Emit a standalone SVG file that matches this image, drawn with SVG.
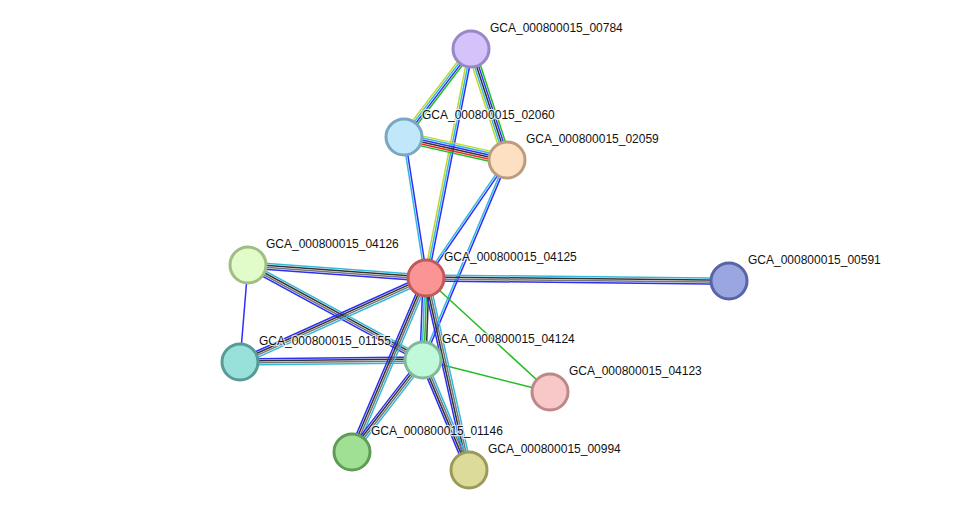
<svg xmlns="http://www.w3.org/2000/svg" width="975" height="516" viewBox="0 0 975 516">
<style>
.e line{stroke-width:1.5;fill:none}
.tm{stroke:#c2d62e}.db{stroke:#33b9dc}.co{stroke:#2e2ef8}.cx{stroke:#333}.cg{stroke:#777}.nb{stroke:#22bd22}.fu{stroke:#f02828}
.n circle{stroke-width:3}
.n text{font-family:"Liberation Sans",Arial,sans-serif;font-size:12px;fill:#111;stroke:#fff;stroke-width:2.5;stroke-opacity:0.75;paint-order:stroke;stroke-linejoin:round}
</style>
<rect width="975" height="516" fill="#fff"/>
<g id="edges" class="e">
  <!-- 00784-02060 -->
  <g transform="translate(471,49) rotate(127.3)"><line class="tm" x1="0" y1="3" x2="110.6" y2="3"/><line class="db" x1="0" y1="1" x2="110.6" y2="1"/><line class="co" x1="0" y1="-1" x2="110.6" y2="-1"/><line class="nb" x1="0" y1="-3" x2="110.6" y2="-3"/></g>
  <!-- 00784-02059 -->
  <g transform="translate(471,49) rotate(72)"><line class="tm" x1="0" y1="4" x2="116.7" y2="4"/><line class="db" x1="0" y1="2" x2="116.7" y2="2"/><line class="cx" x1="0" y1="0" x2="116.7" y2="0"/><line class="co" x1="0" y1="-2" x2="116.7" y2="-2"/><line class="nb" x1="0" y1="-4" x2="116.7" y2="-4"/></g>
  <!-- 00784-04125 -->
  <g transform="translate(471,49) rotate(101.1)"><line class="tm" x1="0" y1="2" x2="233.4" y2="2"/><line class="db" x1="0" y1="0" x2="233.4" y2="0"/><line class="co" x1="0" y1="-2" x2="233.4" y2="-2"/></g>
  <!-- 02060-02059 -->
  <g transform="translate(404,137) rotate(12.6)"><line class="tm" x1="0" y1="-5" x2="105.5" y2="-5"/><line class="db" x1="0" y1="-3" x2="105.5" y2="-3"/><line class="co" x1="0" y1="-1" x2="105.5" y2="-1"/><line class="cx" x1="0" y1="1" x2="105.5" y2="1"/><line class="fu" x1="0" y1="3" x2="105.5" y2="3"/><line class="nb" x1="0" y1="5" x2="105.5" y2="5"/></g>
  <!-- 02060-04125 -->
  <g transform="translate(404,137) rotate(81.1)"><line class="db" x1="0" y1="1" x2="142.7" y2="1"/><line class="co" x1="0" y1="-1" x2="142.7" y2="-1"/></g>
  <!-- 02059-04125 -->
  <g transform="translate(507,160) rotate(124.5)"><line class="db" x1="0" y1="1" x2="143.1" y2="1"/><line class="co" x1="0" y1="-1" x2="143.1" y2="-1"/></g>
  <!-- 02059-04124 -->
  <g transform="translate(507,160) rotate(112.8)"><line class="db" x1="0" y1="1" x2="216.9" y2="1"/><line class="co" x1="0" y1="-1" x2="216.9" y2="-1"/></g>
  <!-- 04126-04125 -->
  <g transform="translate(248,265) rotate(4.2)"><line class="db" x1="0" y1="-3" x2="178.5" y2="-3"/><line class="cx" x1="0" y1="-1" x2="178.5" y2="-1"/><line class="cg" x1="0" y1="1" x2="178.5" y2="1"/><line class="co" x1="0" y1="3" x2="178.5" y2="3"/></g>
  <!-- 04126-04124 -->
  <g transform="translate(248,265) rotate(28.5)"><line class="db" x1="0" y1="-3" x2="199.1" y2="-3"/><line class="cx" x1="0" y1="-1" x2="199.1" y2="-1"/><line class="cg" x1="0" y1="1" x2="199.1" y2="1"/><line class="co" x1="0" y1="3" x2="199.1" y2="3"/></g>
  <!-- 04126-01155 -->
  <line class="co" x1="248" y1="265" x2="240" y2="362"/>
  <!-- 04125-01155 -->
  <g transform="translate(426,278) rotate(155.7)"><line class="co" x1="0" y1="3" x2="204.1" y2="3"/><line class="cx" x1="0" y1="1" x2="204.1" y2="1"/><line class="cg" x1="0" y1="-1" x2="204.1" y2="-1"/><line class="db" x1="0" y1="-3" x2="204.1" y2="-3"/></g>
  <!-- 01155-04124 -->
  <g transform="translate(240,362) rotate(-0.6)"><line class="co" x1="0" y1="-3" x2="183" y2="-3"/><line class="cx" x1="0" y1="-1" x2="183" y2="-1"/><line class="cg" x1="0" y1="1" x2="183" y2="1"/><line class="db" x1="0" y1="3" x2="183" y2="3"/></g>
  <!-- 04125-04124 -->
  <g transform="translate(426,278) rotate(92.1)"><line class="co" x1="0" y1="3" x2="82.1" y2="3"/><line class="db" x1="0" y1="1" x2="82.1" y2="1"/><line class="nb" x1="0" y1="-1" x2="82.1" y2="-1"/><line class="cx" x1="0" y1="-3" x2="82.1" y2="-3"/></g>
  <!-- 04125-04123 -->
  <line class="nb" x1="426" y1="278" x2="550" y2="392"/>
  <!-- 04124-04123 -->
  <line class="nb" x1="423" y1="360" x2="550" y2="392"/>
  <!-- 04125-01146 -->
  <g transform="translate(426,278) rotate(113)"><line class="co" x1="0" y1="3" x2="189.1" y2="3"/><line class="cx" x1="0" y1="1" x2="189.1" y2="1"/><line class="cg" x1="0" y1="-1" x2="189.1" y2="-1"/><line class="db" x1="0" y1="-3" x2="189.1" y2="-3"/></g>
  <!-- 04124-01146 -->
  <g transform="translate(423,360) rotate(127.7)"><line class="co" x1="0" y1="3" x2="116.2" y2="3"/><line class="cx" x1="0" y1="1" x2="116.2" y2="1"/><line class="cg" x1="0" y1="-1" x2="116.2" y2="-1"/><line class="db" x1="0" y1="-3" x2="116.2" y2="-3"/></g>
  <!-- 04125-00994 -->
  <g transform="translate(426,278) rotate(77.4)"><line class="co" x1="0" y1="3" x2="196.8" y2="3"/><line class="cx" x1="0" y1="1" x2="196.8" y2="1"/><line class="cg" x1="0" y1="-1" x2="196.8" y2="-1"/><line class="db" x1="0" y1="-3" x2="196.8" y2="-3"/></g>
  <!-- 04124-00994 -->
  <g transform="translate(423,360) rotate(67.3)"><line class="co" x1="0" y1="3" x2="119.2" y2="3"/><line class="cx" x1="0" y1="1" x2="119.2" y2="1"/><line class="cg" x1="0" y1="-1" x2="119.2" y2="-1"/><line class="db" x1="0" y1="-3" x2="119.2" y2="-3"/></g>
  <!-- 04125-00591 -->
  <g transform="translate(426,278) rotate(0.6)"><line class="db" x1="0" y1="-3" x2="303" y2="-3"/><line class="cx" x1="0" y1="-1" x2="303" y2="-1"/><line class="cg" x1="0" y1="1" x2="303" y2="1"/><line class="co" x1="0" y1="3" x2="303" y2="3"/></g>
</g>
<g id="n00784" class="n"><circle cx="471" cy="49" r="18" fill="#d4c2fb" stroke="#9a86c8"/><text x="490" y="32">GCA_000800015_00784</text></g>
<g id="n02060" class="n"><circle cx="404" cy="137" r="18" fill="#c1e7fa" stroke="#7aa6c0"/><text x="422" y="119">GCA_000800015_02060</text></g>
<g id="n02059" class="n"><circle cx="507" cy="160" r="18" fill="#fde0c2" stroke="#bb9c7e"/><text x="526" y="143">GCA_000800015_02059</text></g>
<g id="n04126" class="n"><circle cx="248" cy="265" r="18" fill="#e1fcc9" stroke="#a0bd84"/><text x="266" y="248">GCA_000800015_04126</text></g>
<g id="n04125" class="n"><circle cx="426" cy="278" r="18" fill="#fb9595" stroke="#c05a5a"/><text x="444" y="261">GCA_000800015_04125</text></g>
<g id="n00591" class="n"><circle cx="729" cy="281" r="18" fill="#99a6e0" stroke="#5864a6"/><text x="748" y="264">GCA_000800015_00591</text></g>
<g id="n01155" class="n"><circle cx="240" cy="362" r="18" fill="#98e0da" stroke="#5a9a96"/><text x="259" y="345">GCA_000800015_01155</text></g>
<g id="n04124" class="n"><circle cx="423" cy="360" r="18" fill="#c0f8da" stroke="#80b898"/><text x="442" y="343">GCA_000800015_04124</text></g>
<g id="n04123" class="n"><circle cx="550" cy="392" r="18" fill="#f8c8c8" stroke="#bc8888"/><text x="569" y="375">GCA_000800015_04123</text></g>
<g id="n01146" class="n"><circle cx="352" cy="452" r="18" fill="#9fe095" stroke="#609c58"/><text x="371" y="435">GCA_000800015_01146</text></g>
<g id="n00994" class="n"><circle cx="469" cy="470" r="18" fill="#dddb9a" stroke="#9c9a58"/><text x="488" y="453">GCA_000800015_00994</text></g>
</svg>
